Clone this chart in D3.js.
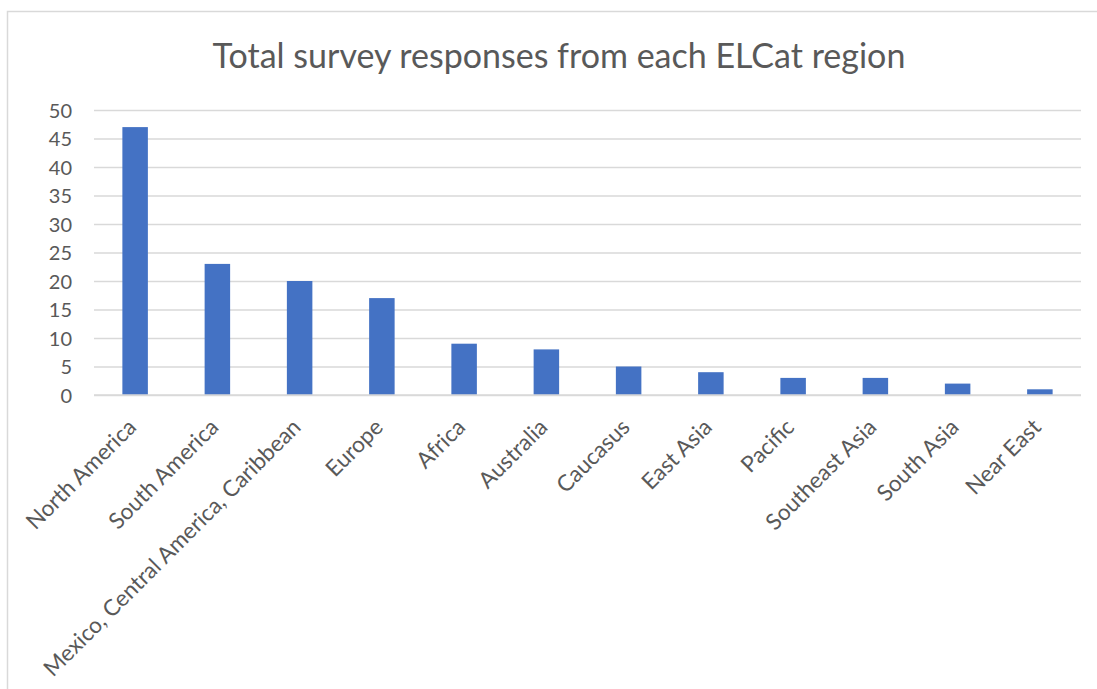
<!DOCTYPE html>
<html>
<head>
<meta charset="utf-8">
<script src="https://cdn.jsdelivr.net/npm/d3@7"></script>
<style>
  html, body { margin: 0; padding: 0; background: #fff; }
  svg { display: block; }
  text { font-family: Lato, "Open Sans", sans-serif; fill: #595959; }
</style>
</head>
<body>
<svg id="chart" width="1097" height="689"></svg>
<script>
const categories = ["North America", "South America", "Mexico, Central America, Caribbean", "Europe", "Africa", "Australia", "Caucasus", "East Asia", "Pacific", "Southeast Asia", "South Asia", "Near East"];
const values = [47, 23, 20, 17, 9, 8, 5, 4, 3, 3, 2, 1];
const yTicks = [0, 5, 10, 15, 20, 25, 30, 35, 40, 45, 50];
const title = "Total survey responses from each ELCat region";

const svg = d3.select("#chart");

// outer chart border
svg.append("rect")
  .attr("x", 7.5).attr("y", 11.5)
  .attr("width", 1200).attr("height", 800)
  .attr("fill", "none").attr("stroke", "#d9d9d9").attr("stroke-width", 1.5);

const x = d3.scaleBand().domain(categories).range([94, 1081]).paddingInner(0.69).paddingOuter(0.345);
const y = d3.scaleLinear().domain([0, 50]).range([395, 110]);

// gridlines
const yAxis = d3.axisLeft(y).tickValues(yTicks).tickSize(-(1081 - 94)).tickPadding(22);
const gy = svg.append("g").attr("transform", "translate(94,0)").call(yAxis);
gy.select(".domain").remove();
gy.selectAll(".tick line").attr("stroke", "#d9d9d9").attr("stroke-width", 1.3);
gy.selectAll(".tick text").style("font-size", "20px").attr("fill", "#595959").attr("dy", "0.36em");

// bars
svg.append("g").selectAll("rect").data(values).join("rect")
  .attr("x", (d, i) => x(categories[i]))
  .attr("y", d => y(d))
  .attr("width", x.bandwidth())
  .attr("height", d => y(0) - y(d))
  .attr("fill", "#4472c4");

// x axis baseline
svg.append("line").attr("x1", 94).attr("x2", 1081).attr("y1", y(0)).attr("y2", y(0))
  .attr("stroke", "#d9d9d9").attr("stroke-width", 1.3);

// x labels
svg.append("g").selectAll("text").data(categories).join("text")
  .attr("transform", d => `translate(${x(d) + x.bandwidth() / 2 - 3},${y(0) + 28}) rotate(-45)`)
  .attr("text-anchor", "end")
  .attr("dy", "0.35em")
  .style("font-size", "22.5px")
  .text(d => d);

// title
svg.append("text").attr("x", 559).attr("y", 68).attr("text-anchor", "middle")
  .style("font-size", "34px").text(title);
</script>
</body>
</html>
